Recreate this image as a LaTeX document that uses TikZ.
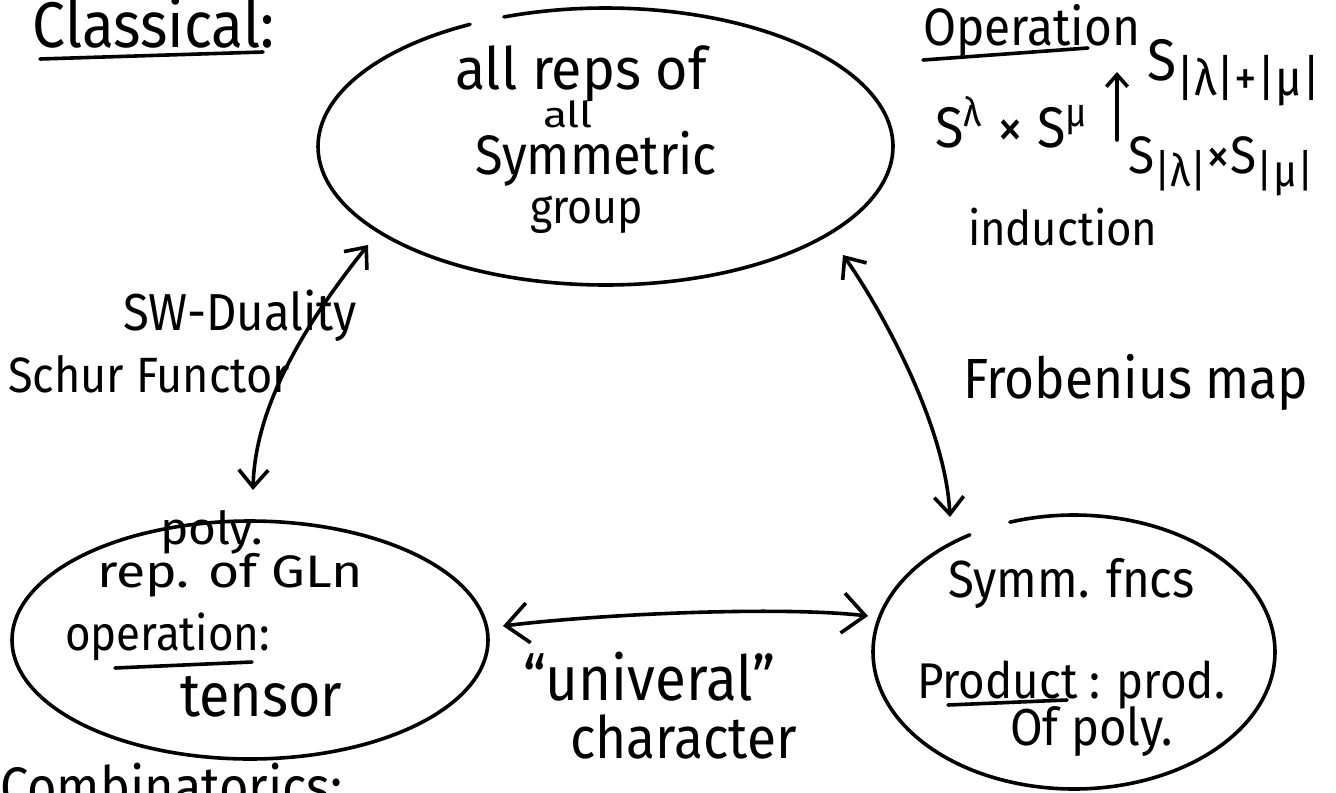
\documentclass[tikz,border=0pt]{standalone}
\usepackage{fontspec}
\setmainfont{Fira Sans}
\usepackage{graphicx}
\usetikzlibrary{arrows.meta}
\newcommand{\hw}[3][1.1]{\scalebox{1}[#1]{\resizebox{#2}{!}{#3}}}
\newcommand{\sub}[1]{\raisebox{-0.5ex}{\scalebox{0.85}{#1}}}
\tikzset{
  bigbarb/.tip={Straight Barb[length=17pt,width=30pt]},
  midbarb/.tip={Straight Barb[length=13pt,width=22pt]},
  smallbarb/.tip={Straight Barb[length=9pt,width=16pt]}}
\begin{document}
\begin{tikzpicture}[x=0.75pt,y=-0.75pt,
  ink/.style={line width=2.7pt, line cap=round, line join=round},
  txt/.style={inner sep=0pt, outer sep=0pt, anchor=base west}]
\useasboundingbox (0,0) rectangle (1336,793);
\clip (0,0) rectangle (1336,793);
\fill[white] (0,0) rectangle (1336,793);

% ellipses (hand drawn outlines)
\coordinate (topC) at (605.5,146.5);
\coordinate (blC) at (250,640);
\coordinate (brC) at (1074,652);
\draw[ink] plot[smooth, domain=249.3:601.9, samples=120] ({605.5+287.5*cos(\x)},{146.5+138.5*sin(\x)});
\draw[ink] plot[smooth, domain=0:360, samples=120] ({250+238*cos(\x)},{640+119*sin(\x)});
\draw[ink] plot[smooth, domain=251.4:598.8, samples=120] ({1074+201*cos(\x)},{652+137*sin(\x)});

% texts
\node[txt] (classical) at (33,47) {\hw{181.5pt}{Classical:}};
\node[txt] (operation) at (923,45) {\hw{162.75pt}{Operation}};
\node[txt] (t1) at (455,89) {\hw[1.05]{189pt}{all reps of}};
\node[txt] (t2) at (543,127) {\hw[0.8]{37.5pt}{all}};
\node[txt] (t3) at (475,174) {\hw{181.5pt}{Symmetric}};
\node[txt] (t4) at (530,223) {\hw{84.75pt}{group}};
\node[txt] (b1) at (160,544) {\hw[0.95]{77.25pt}{poly.}};
\node[txt] (b2) at (97,587) {\hw[0.85]{199.5pt}{rep. of GLn}};
\node[txt] (b3) at (65,650) {\hw{153.75pt}{operation:}};
\node[txt] (b4) at (180,716) {\hw{121.5pt}{tensor}};
\node[txt] (comb) at (0,806) {\hw{257pt}{Combinatorics:}};
\node[txt] (r1) at (948,597) {\hw{185pt}{Symm. fncs}};
\node[txt] (r2) at (917,698) {\hw{231pt}{Product : prod.}};
\node[txt] (r3) at (1010,745) {\hw{122pt}{Of poly.}};
\node[txt] (sw) at (123,330) {\hw{175.5pt}{SW-Duality}};
\node[txt] (schur) at (8,392) {\hw{211.5pt}{Schur Functor}};
\node[txt] (frob) at (963,398) {\hw{259pt}{Frobenius map}};
\node[txt] (univ) at (523,700) {\hw{189pt}{“univeral”}};
\node[txt] (char) at (570,758) {\hw{170pt}{character}};
\node[txt] (op1) at (935,147) {\hw{116pt}{S\textsuperscript{λ} × S\textsuperscript{μ}}};
\node[txt] (op2) at (1147,80) {\hw{130pt}{S\sub{|λ|+|μ|}}};
\node[txt] (op3) at (1128,173) {\hw{139pt}{S\sub{|λ|}×S\sub{|μ|}}};
\node[txt] (ind) at (968,245) {\hw{142pt}{induction}};

% underlines
\draw[ink] (40,59) -- (263,52);
\draw[ink] (923,60) -- (1088,48);
\draw[ink] (115,668) -- (252,662);
\draw[ink] (948,705) -- (1067,700);

% connector end points
\coordinate (swT) at (368,245);
\coordinate (swB) at (253,490);
\coordinate (frT) at (843,255);
\coordinate (frB) at (950,517);
\coordinate (hL) at (503,626);
\coordinate (hR) at (868,616);
\coordinate (opB) at (1117,140);
\coordinate (opT) at (1117,72);

% connectors
\draw[ink, midbarb-midbarb] (swB) .. controls (255,410) and (300,330) .. (swT);
\draw[ink, midbarb-midbarb] (frT) .. controls (875,300) and (945,420) .. (frB);
\draw[ink, bigbarb-bigbarb] (hL) .. controls (600,614) and (780,606) .. (hR);
\draw[ink, -smallbarb] (opB) -- (opT);
\end{tikzpicture}
\end{document}
